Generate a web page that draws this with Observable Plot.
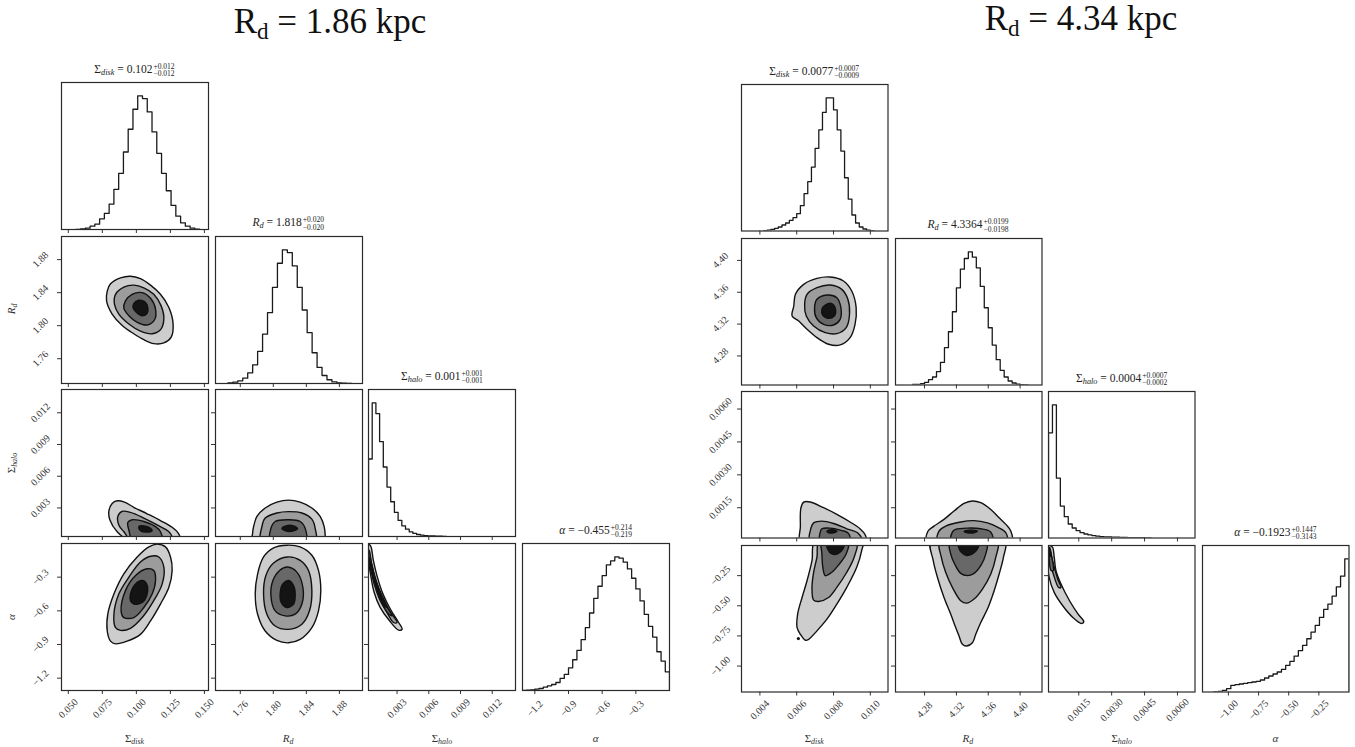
<!DOCTYPE html>
<html>
<head>
<meta charset="utf-8">
<script src="https://cdn.jsdelivr.net/npm/d3@7"></script>
<script src="https://cdn.jsdelivr.net/npm/@observablehq/plot@0.6"></script>
<style>
  html, body { margin: 0; padding: 0; background: #fff; }
  #root { position: relative; width: 1355px; height: 747px; overflow: hidden; font-family: "Liberation Serif", "DejaVu Serif", serif; color: #222; }
  .pnl { position: absolute; }
  .maintitle { position: absolute; font-size: 35px; line-height: 1; white-space: nowrap; transform: translateX(-50%); color: #111; }
  .maintitle sub { font-size: 0.66em; vertical-align: -0.28em; line-height: 0; }
  .htitle { position: absolute; text-align: center; font-size: 11.5px; line-height: 1; white-space: nowrap; color: #222; }
  .htitle sub.v { font-size: 0.72em; vertical-align: -0.3em; line-height: 0; }
  .ss { display: inline-flex; flex-direction: column; font-size: 7.5px; line-height: 1.0; vertical-align: 4px; margin-left: 1px; text-align: left; }
  .xlab { position: absolute; font-size: 11px; white-space: nowrap; transform: translate(-50%, -50%); color: #333; }
  .ylab { position: absolute; font-size: 11px; white-space: nowrap; transform: translate(-50%, -50%) rotate(-90deg); color: #333; }
  .xlab sub, .ylab sub { font-size: 0.72em; vertical-align: -0.3em; line-height: 0; }
</style>
</head>
<body>
<div id="root"></div>
<script>
// ======================= DATA : left corner (R_d = 1.86 kpc) =======================
const L_title = ["R", "d", " = 1.86 kpc"];
const L_medians = ["0.102", "1.818", "0.001", "\u22120.455"];
const L_plus = ["+0.012", "+0.020", "+0.001", "+0.214"];
const L_minus = ["\u22120.012", "\u22120.020", "\u22120.001", "\u22120.219"];

const L_sdisk_domain = [0.045, 0.153];
const L_rd_domain = [1.730, 1.908];
const L_shalo_domain = [0.0003, 0.0142];
const L_alpha_domain = [-1.31, 0.0];

const L_sdisk_ticks = [0.050, 0.075, 0.100, 0.125, 0.150];
const L_rd_ticks = [1.76, 1.80, 1.84, 1.88];
const L_shalo_ticks = [0.003, 0.006, 0.009, 0.012];
const L_alpha_ticks = [-1.2, -0.9, -0.6, -0.3];

// histograms: first bin edge, bin width, relative counts
const L_sdisk_bins = [0.0555, 0.0035];
const L_sdisk_counts = [0, 0.5, 1, 2.5, 4, 8, 12, 19, 30, 42, 58, 75, 90, 100, 98, 88, 73, 57, 42, 29, 18, 10, 5, 2.5, 1, 0.3];
const L_rd_bins = [1.745, 0.006];
const L_rd_counts = [0.5, 1, 2, 4, 8, 14, 24, 37, 53, 72, 90, 100, 98, 88, 72, 55, 38, 23, 12, 6, 2.8, 1.2, 0.5, 0.3, 0.1];
const L_shalo_bins = [0.0003, 0.00035];
const L_shalo_counts = [58, 100, 92, 71, 52, 37, 26, 18, 12, 8, 5.5, 3.5, 2.3, 1.5, 1, 0.7, 0.5, 0.4, 0.3, 0.2, 0.1];
const L_alpha_bins = [-1.3125, 0.0375];
const L_alpha_counts = [0, 0.3, 0.5, 1, 1.5, 2.5, 3.5, 4.5, 6, 9, 12, 17, 23, 30, 38, 47, 58, 69, 78, 86, 94, 97, 100, 99, 96, 91, 84, 76, 67, 57, 48, 40, 29, 22, 14];

// contour polygons (outer -> inner), in data units
const L_c_sd_rd = [
  [[0.0810,1.8507],[0.0884,1.8579],[0.0957,1.8599],[0.1030,1.8571],[0.1104,1.8491],[0.1177,1.8380],[0.1239,1.8220],[0.1270,1.8021],[0.1256,1.7862],[0.1202,1.7791],[0.1128,1.7783],[0.1055,1.7830],[0.0981,1.7902],[0.0896,1.8002],[0.0822,1.8141],[0.0781,1.8300],[0.0786,1.8419]],
  [[0.0847,1.8380],[0.0908,1.8467],[0.0981,1.8491],[0.1055,1.8459],[0.1128,1.8380],[0.1182,1.8240],[0.1202,1.8081],[0.1177,1.7950],[0.1116,1.7902],[0.1030,1.7934],[0.0945,1.8021],[0.0871,1.8141],[0.0839,1.8260]],
  [[0.0920,1.8300],[0.0969,1.8380],[0.1043,1.8400],[0.1104,1.8332],[0.1141,1.8201],[0.1133,1.8069],[0.1079,1.8009],[0.1006,1.8041],[0.0945,1.8121],[0.0908,1.8212]],
  [[0.0981,1.8268],[0.1018,1.8308],[0.1060,1.8292],[0.1084,1.8220],[0.1079,1.8149],[0.1043,1.8121],[0.1001,1.8161],[0.0977,1.8212]]
];
const L_c_sd_sh = [
  [[0.0798,0.00268],[0.0822,0.00342],[0.0859,0.00368],[0.0913,0.00355],[0.0981,0.00306],[0.1079,0.00245],[0.1177,0.00181],[0.1263,0.00117],[0.1312,0.00053],[0.1324,-0.0003],[0.0981,-0.0003],[0.0859,0.00075],[0.0805,0.00188]],
  [[0.0864,0.00220],[0.0896,0.00268],[0.0957,0.00258],[0.1055,0.00204],[0.1153,0.00139],[0.1239,0.00075],[0.1263,0.00027],[0.1270,-0.0003],[0.0981,-0.0003],[0.0908,0.00075],[0.0871,0.00139]],
  [[0.0937,0.00162],[0.0969,0.00188],[0.1055,0.00172],[0.1141,0.00123],[0.1177,0.00075],[0.1185,-0.0003],[0.0981,-0.0003],[0.0945,0.00091]],
  [[0.1018,0.00123],[0.1055,0.00130],[0.1104,0.00107],[0.1116,0.00085],[0.1079,0.00072],[0.1030,0.00085]]
];
const L_c_rd_sh = [
  [[1.7761,0.00123],[1.7802,0.00220],[1.7902,0.00300],[1.8043,0.00355],[1.8184,0.00374],[1.8325,0.00355],[1.8467,0.00300],[1.8567,0.00220],[1.8616,0.00123],[1.8628,0.00043],[1.8628,-0.0003],[1.7749,-0.0003],[1.7749,0.00059]],
  [[1.7862,0.00123],[1.7902,0.00204],[1.8043,0.00252],[1.8184,0.00265],[1.8346,0.00252],[1.8467,0.00194],[1.8507,0.00107],[1.8507,-0.0003],[1.7854,-0.0003]],
  [[1.7971,0.00107],[1.8023,0.00172],[1.8184,0.00188],[1.8325,0.00172],[1.8386,0.00107],[1.8386,-0.0003],[1.7971,-0.0003]],
  [[1.8104,0.00107],[1.8164,0.00133],[1.8245,0.00130],[1.8293,0.00104],[1.8237,0.00082],[1.8156,0.00082]]
];
const L_c_sd_al = [
  [[0.0810,-0.870],[0.0786,-0.780],[0.0790,-0.630],[0.0835,-0.450],[0.0908,-0.270],[0.1006,-0.120],[0.1092,-0.030],[0.1153,-0.006],[0.1214,-0.030],[0.1251,-0.120],[0.1263,-0.240],[0.1239,-0.390],[0.1177,-0.540],[0.1104,-0.690],[0.1030,-0.810],[0.0932,-0.870],[0.0847,-0.894]],
  [[0.0847,-0.750],[0.0835,-0.630],[0.0871,-0.450],[0.0945,-0.300],[0.1030,-0.165],[0.1104,-0.114],[0.1165,-0.120],[0.1202,-0.210],[0.1190,-0.360],[0.1128,-0.510],[0.1043,-0.660],[0.0957,-0.756],[0.0884,-0.774]],
  [[0.0888,-0.600],[0.0920,-0.420],[0.0994,-0.285],[0.1079,-0.225],[0.1128,-0.240],[0.1141,-0.330],[0.1116,-0.450],[0.1055,-0.570],[0.0981,-0.660],[0.0908,-0.660]],
  [[0.0957,-0.450],[0.0994,-0.360],[0.1043,-0.330],[0.1075,-0.360],[0.1079,-0.450],[0.1043,-0.525],[0.0981,-0.540],[0.0957,-0.510]]
];
const L_c_rd_al = [
  [[1.8164,-0.015],[1.8325,-0.030],[1.8467,-0.105],[1.8547,-0.240],[1.8575,-0.420],[1.8547,-0.600],[1.8467,-0.750],[1.8325,-0.855],[1.8184,-0.885],[1.8043,-0.864],[1.7902,-0.780],[1.7810,-0.630],[1.7781,-0.450],[1.7810,-0.270],[1.7882,-0.120],[1.8003,-0.039]],
  [[1.8172,-0.120],[1.8325,-0.150],[1.8426,-0.240],[1.8467,-0.420],[1.8438,-0.600],[1.8346,-0.720],[1.8184,-0.765],[1.8023,-0.735],[1.7922,-0.630],[1.7882,-0.450],[1.7910,-0.285],[1.8003,-0.174]],
  [[1.8172,-0.210],[1.8285,-0.255],[1.8358,-0.390],[1.8346,-0.540],[1.8265,-0.630],[1.8144,-0.645],[1.8023,-0.600],[1.7971,-0.465],[1.7995,-0.330],[1.8076,-0.240]],
  [[1.8184,-0.330],[1.8245,-0.375],[1.8265,-0.465],[1.8245,-0.540],[1.8164,-0.570],[1.8096,-0.525],[1.8084,-0.435],[1.8116,-0.360]]
];
const L_c_sh_al = [
  [[0.00028,-0.006],[0.00051,-0.024],[0.00076,-0.150],[0.00114,-0.300],[0.00166,-0.449],[0.00236,-0.584],[0.00315,-0.704],[0.00348,-0.763],[0.00315,-0.772],[0.00229,-0.689],[0.00140,-0.569],[0.00083,-0.435],[0.00051,-0.285],[0.00028,-0.150],[0.00018,-0.060]],
  [[0.00038,-0.060],[0.00060,-0.180],[0.00102,-0.330],[0.00156,-0.464],[0.00229,-0.599],[0.00300,-0.704],[0.00267,-0.704],[0.00204,-0.614],[0.00133,-0.494],[0.00083,-0.360],[0.00051,-0.225],[0.00032,-0.120]],
  [[0.00044,-0.120],[0.00076,-0.270],[0.00124,-0.404],[0.00188,-0.539],[0.00252,-0.644],[0.00220,-0.629],[0.00156,-0.524],[0.00102,-0.390],[0.00060,-0.255],[0.00038,-0.165]],
  [[0.00051,-0.165],[0.00092,-0.315],[0.00147,-0.449],[0.00204,-0.569],[0.00178,-0.554],[0.00124,-0.435],[0.00076,-0.300],[0.00044,-0.195]]
];

// ======================= DATA : right corner (R_d = 4.34 kpc) =======================
const R_title = ["R", "d", " = 4.34 kpc"];
const R_medians = ["0.0077", "4.3364", "0.0004", "\u22120.1923"];
const R_plus = ["+0.0007", "+0.0199", "+0.0007", "+0.1447"];
const R_minus = ["\u22120.0009", "\u22120.0198", "\u22120.0002", "\u22120.3143"];

const R_sdisk_domain = [0.0030, 0.01096];
const R_rd_domain = [4.2435, 4.4275];
const R_shalo_domain = [0.00012, 0.0068];
const R_alpha_domain = [-1.215, 0.0];

const R_sdisk_ticks = [0.004, 0.006, 0.008, 0.010];
const R_rd_ticks = [4.28, 4.32, 4.36, 4.40];
const R_shalo_ticks = [0.0015, 0.0030, 0.0045, 0.0060];
const R_alpha_ticks = [-1.00, -0.75, -0.50, -0.25];

const R_sdisk_bins = [0.0042, 0.0002];
const R_sdisk_counts = [0.3, 0.7, 1.2, 2, 3, 4.5, 6, 8, 10, 13, 19, 28, 37, 48, 62, 76, 89, 100, 100, 91, 76, 60, 40, 24, 12, 6, 3, 1.5, 0.6, 0.2];
const R_rd_bins = [4.265, 0.005];
const R_rd_counts = [0.5, 0.5, 1, 2, 4, 6, 10, 17, 28, 40, 55, 73, 87, 95, 100, 96, 88, 74, 58, 43, 30, 19, 11, 6, 3, 1.5, 0.7, 0.3, 0.1];
const R_shalo_bins = [0.00012, 0.00018];
const R_shalo_counts = [79, 100, 45, 24, 16, 10.5, 7.5, 5.5, 4, 3, 2.3, 1.8, 1.4, 1.1, 0.9, 0.8, 0.7, 0.6, 0.5, 0.4, 0.35, 0.3, 0.25, 0.2, 0.15, 0.1];
const R_alpha_bins = [-1.12, 0.035];
const R_alpha_counts = [0.3, 0.5, 1.2, 2.5, 5, 5.5, 6, 6.5, 7, 7.5, 8, 9, 10.5, 12, 13.5, 15, 17, 20, 23, 27, 31, 35, 40, 45, 50, 56, 62, 66, 72, 79, 87, 100];

const R_c_sd_rd = [
  [[0.00593,4.3574],[0.00638,4.3699],[0.00710,4.3774],[0.00782,4.3791],[0.00854,4.3741],[0.00899,4.3615],[0.00923,4.3406],[0.00917,4.3197],[0.00890,4.3030],[0.00836,4.2938],[0.00773,4.2947],[0.00710,4.3030],[0.00656,4.3135],[0.00611,4.3239],[0.00575,4.3302],[0.00584,4.3427]],
  [[0.00656,4.3574],[0.00710,4.3657],[0.00782,4.3691],[0.00845,4.3636],[0.00878,4.3511],[0.00887,4.3323],[0.00869,4.3156],[0.00818,4.3080],[0.00755,4.3093],[0.00692,4.3177],[0.00652,4.3302],[0.00643,4.3448]],
  [[0.00710,4.3511],[0.00764,4.3565],[0.00818,4.3532],[0.00840,4.3406],[0.00836,4.3260],[0.00800,4.3189],[0.00746,4.3197],[0.00706,4.3281],[0.00697,4.3406]],
  [[0.00755,4.3440],[0.00791,4.3457],[0.00811,4.3386],[0.00804,4.3302],[0.00773,4.3273],[0.00742,4.3310],[0.00737,4.3386]]
];
const R_c_sd_sh = [
  [[0.00623,0.00150],[0.00638,0.00176],[0.00674,0.00176],[0.00746,0.00150],[0.00818,0.00120],[0.00890,0.00085],[0.00944,0.00054],[0.00971,0.00028],[0.00980,-0.0002],[0.00623,-0.0002],[0.00620,0.00066]],
  [[0.00678,0.00059],[0.00692,0.00081],[0.00737,0.00089],[0.00800,0.00078],[0.00872,0.00054],[0.00935,0.00033],[0.00962,-0.0002],[0.00674,-0.0002]],
  [[0.00728,0.00039],[0.00737,0.00054],[0.00782,0.00057],[0.00836,0.00048],[0.00881,0.00033],[0.00890,-0.0002],[0.00728,-0.0002]],
  [[0.00764,0.00043],[0.00791,0.00051],[0.00818,0.00043],[0.00800,0.00036],[0.00773,0.00036]]
];
const R_c_rd_sh = [
  [[4.2842,0.00043],[4.2918,0.00066],[4.3044,0.00097],[4.3170,0.00135],[4.3296,0.00170],[4.3401,0.00181],[4.3506,0.00173],[4.3632,0.00142],[4.3737,0.00104],[4.3821,0.00074],[4.3884,0.00043],[4.3892,-0.0002],[4.2834,-0.0002]],
  [[4.2981,0.00043],[4.3065,0.00066],[4.3254,0.00085],[4.3422,0.00091],[4.3590,0.00081],[4.3716,0.00062],[4.3821,0.00036],[4.3833,-0.0002],[4.2968,-0.0002]],
  [[4.3149,0.00039],[4.3191,0.00051],[4.3338,0.00057],[4.3506,0.00054],[4.3632,0.00039],[4.3653,-0.0002],[4.3136,-0.0002]],
  [[4.3296,0.00042],[4.3380,0.00048],[4.3464,0.00043],[4.3422,0.00036],[4.3338,0.00036]]
];
const R_c_sd_al = [
  [[0.00701,0.0417],[0.00959,0.0417],[0.00953,-0.0417],[0.00926,-0.181],[0.00872,-0.347],[0.00818,-0.486],[0.00764,-0.611],[0.00710,-0.708],[0.00665,-0.778],[0.00647,-0.786],[0.00620,-0.736],[0.00602,-0.681],[0.00605,-0.569],[0.00629,-0.431],[0.00656,-0.292],[0.00683,-0.125]],
  [[0.00724,0.0417],[0.00926,0.0417],[0.00912,-0.097],[0.00872,-0.222],[0.00818,-0.347],[0.00773,-0.431],[0.00719,-0.464],[0.00692,-0.453],[0.00683,-0.347],[0.00692,-0.222],[0.00710,-0.097]],
  [[0.00737,0.0417],[0.00881,0.0417],[0.00869,-0.069],[0.00832,-0.153],[0.00791,-0.222],[0.00755,-0.250],[0.00742,-0.181],[0.00737,-0.069]],
  [[0.00764,0.0417],[0.00858,0.0417],[0.00851,-0.028],[0.00822,-0.069],[0.00791,-0.069],[0.00768,-0.028]]
];
const R_dots_sd_al = [[0.00609, -0.772]];
const R_c_rd_al = [
  [[4.2884,0.0417],[4.3808,0.0417],[4.3791,-0.097],[4.3737,-0.236],[4.3674,-0.375],[4.3598,-0.514],[4.3506,-0.639],[4.3443,-0.736],[4.3401,-0.806],[4.3329,-0.833],[4.3275,-0.819],[4.3233,-0.750],[4.3191,-0.681],[4.3128,-0.569],[4.3044,-0.431],[4.2968,-0.278],[4.2909,-0.125]],
  [[4.2993,0.0417],[4.3716,0.0417],[4.3695,-0.097],[4.3632,-0.236],[4.3527,-0.361],[4.3422,-0.444],[4.3329,-0.478],[4.3254,-0.458],[4.3149,-0.347],[4.3065,-0.222],[4.3010,-0.097]],
  [[4.3119,0.0417],[4.3581,0.0417],[4.3569,-0.069],[4.3506,-0.167],[4.3422,-0.231],[4.3338,-0.250],[4.3254,-0.231],[4.3178,-0.153],[4.3128,-0.069]],
  [[4.3220,0.0417],[4.3485,0.0417],[4.3464,-0.028],[4.3401,-0.069],[4.3329,-0.083],[4.3262,-0.056],[4.3228,-0.014]]
];
const R_c_sh_al = [
  [[0.00012,0.0],[0.00030,-0.014],[0.00038,-0.097],[0.00046,-0.208],[0.00069,-0.319],[0.00108,-0.458],[0.00147,-0.569],[0.00173,-0.631],[0.00163,-0.647],[0.00123,-0.597],[0.00077,-0.500],[0.00038,-0.389],[0.00015,-0.264],[0.00007,-0.125],[0.00005,-0.042]],
  [[0.00018,-0.042],[0.00034,-0.153],[0.00054,-0.278],[0.00069,-0.347],[0.00058,-0.347],[0.00034,-0.236],[0.00018,-0.125]],
  [[0.00018,-0.014],[0.00027,-0.097],[0.00034,-0.208],[0.00024,-0.208],[0.00015,-0.097]],
  [[0.00017,-0.030],[0.00023,-0.080],[0.00019,-0.090],[0.00015,-0.050]]
];

// parameter names (shared)
const PARAM_NAMES = [["\u03a3", "disk"], ["R", "d"], ["\u03a3", "halo"], ["\u03b1", ""]];

// ======================= RENDERING =======================
const FILLS = ["#cdcdcd", "#9c9c9c", "#686868", "#141414"];
const root = document.getElementById("root");

function histPoints(bins, counts) {
  const [start, w] = bins;
  const pts = [[start, 0]];
  counts.forEach((c, i) => { pts.push([start + i * w, c], [start + (i + 1) * w, c]); });
  pts.push([start + counts.length * w, 0]);
  return pts;
}

function nameHTML(i) {
  const [base, sub] = PARAM_NAMES[i];
  const b = (i === 1 || i === 3) ? `<i>${base}</i>` : base;
  return sub ? `${b}<sub class="v"><i>${sub}</i></sub>` : b;
}

function panelPlot({xv, yv, isHist, levels, dots, showX, showY, size}) {
  const ml = 44, mr = 4, mt = 4, mb = 44;
  const marks = [];
  if (isHist) {
    marks.push(Plot.line(histPoints(xv.bins, xv.counts), {x: d => d[0], y: d => d[1], stroke: "#1a1a1a", strokeWidth: 1.3, clip: true}));
  } else {
    levels.forEach((poly, i) => {
      marks.push(Plot.line(poly, {x: d => d[0], y: d => d[1], fill: FILLS[i], stroke: "#111", strokeWidth: 1.4, curve: "catmull-rom-closed", clip: true}));
    });
    if (dots) marks.push(Plot.dot(dots, {x: d => d[0], y: d => d[1], r: 1.6, fill: "#111", clip: true}));
  }
  marks.push(Plot.axisX({ticks: xv.ticks, tickSize: 4, tickPadding: 14, tickRotate: -45, textAnchor: "middle", lineAnchor: "middle",
    tickFormat: showX ? d3.format(xv.fmt) : () => "", label: null, stroke: "#333"}));
  if (!isHist) {
    marks.push(Plot.axisY({ticks: yv.ticks, tickSize: 4, tickPadding: 17, tickRotate: -45, textAnchor: "middle", lineAnchor: "middle",
      tickFormat: showY ? d3.format(yv.fmt) : () => "", label: null, stroke: "#333"}));
  }
  marks.push(Plot.frame({stroke: "#2a2a2a", strokeWidth: 1.2}));
  const svg = Plot.plot({
    width: size + ml + mr, height: size + mt + mb,
    marginLeft: ml, marginRight: mr, marginTop: mt, marginBottom: mb,
    style: {background: "transparent", fontFamily: "'Liberation Serif', serif", fontSize: "10px", color: "#333", overflow: "visible"},
    x: {domain: xv.domain},
    y: isHist ? {domain: [0, 110], axis: null} : {domain: yv.domain},
    marks
  });
  return {svg, ml, mt};
}

function drawCorner({vars, contours, dots, layout, title, medians, plus, minus, yLabels}) {
  const {x0, y0, step, size, titleX, titleTop} = layout;
  const t = document.createElement("div");
  t.className = "maintitle";
  t.style.left = titleX + "px"; t.style.top = titleTop + "px";
  t.innerHTML = `${title[0]}<sub>${title[1]}</sub>${title[2]}`;
  root.appendChild(t);

  for (let r = 0; r < 4; r++) {
    for (let c = 0; c <= r; c++) {
      const isHist = r === c;
      const fx = x0 + c * step, fy = y0 + r * step;
      const {svg, ml, mt} = panelPlot({
        xv: vars[c], yv: vars[r], isHist,
        levels: contours[`${r}-${c}`], dots: dots[`${r}-${c}`],
        showX: r === 3, showY: c === 0, size
      });
      const wrap = document.createElement("div");
      wrap.className = "pnl";
      wrap.style.left = (fx - ml) + "px"; wrap.style.top = (fy - mt) + "px";
      wrap.appendChild(svg);
      root.appendChild(wrap);

      if (isHist) {
        const h = document.createElement("div");
        h.className = "htitle";
        h.style.left = (fx - 20) + "px"; h.style.width = (size + 40) + "px";
        h.style.top = (fy - 19.5) + "px";
        h.innerHTML = `${nameHTML(r)} = ${medians[r]}<span class="ss"><span>${plus[r]}</span><span>${minus[r]}</span></span>`;
        root.appendChild(h);
      }
    }
    const xl = document.createElement("div");
    xl.className = "xlab";
    xl.style.left = (x0 + r * step + size / 2) + "px"; xl.style.top = "738px";
    xl.innerHTML = nameHTML(r).replace('class="v"', '');
    root.appendChild(xl);
    if (yLabels && r > 0) {
      const yl = document.createElement("div");
      yl.className = "ylab";
      yl.style.left = "11px"; yl.style.top = (y0 + r * step + size / 2) + "px";
      yl.innerHTML = nameHTML(r).replace('class="v"', '');
      root.appendChild(yl);
    }
  }
}

drawCorner({
  vars: [
    {domain: L_sdisk_domain, ticks: L_sdisk_ticks, fmt: ".3f", bins: L_sdisk_bins, counts: L_sdisk_counts},
    {domain: L_rd_domain, ticks: L_rd_ticks, fmt: ".2f", bins: L_rd_bins, counts: L_rd_counts},
    {domain: L_shalo_domain, ticks: L_shalo_ticks, fmt: ".3f", bins: L_shalo_bins, counts: L_shalo_counts},
    {domain: L_alpha_domain, ticks: L_alpha_ticks, fmt: ".1f", bins: L_alpha_bins, counts: L_alpha_counts}
  ],
  contours: {"1-0": L_c_sd_rd, "2-0": L_c_sd_sh, "2-1": L_c_rd_sh, "3-0": L_c_sd_al, "3-1": L_c_rd_al, "3-2": L_c_sh_al},
  dots: {},
  layout: {x0: 61, y0: 82, step: 153.7, size: 147, titleX: 330, titleTop: 4},
  title: L_title, medians: L_medians, plus: L_plus, minus: L_minus, yLabels: true
});

drawCorner({
  vars: [
    {domain: R_sdisk_domain, ticks: R_sdisk_ticks, fmt: ".3f", bins: R_sdisk_bins, counts: R_sdisk_counts},
    {domain: R_rd_domain, ticks: R_rd_ticks, fmt: ".2f", bins: R_rd_bins, counts: R_rd_counts},
    {domain: R_shalo_domain, ticks: R_shalo_ticks, fmt: ".4f", bins: R_shalo_bins, counts: R_shalo_counts},
    {domain: R_alpha_domain, ticks: R_alpha_ticks, fmt: ".2f", bins: R_alpha_bins, counts: R_alpha_counts}
  ],
  contours: {"1-0": R_c_sd_rd, "2-0": R_c_sd_sh, "2-1": R_c_rd_sh, "3-0": R_c_sd_al, "3-1": R_c_rd_al, "3-2": R_c_sh_al},
  dots: {"3-0": R_dots_sd_al},
  layout: {x0: 741, y0: 84, step: 153.7, size: 146.5, titleX: 1081, titleTop: 1},
  title: R_title, medians: R_medians, plus: R_plus, minus: R_minus, yLabels: false
});
</script>
</body>
</html>
